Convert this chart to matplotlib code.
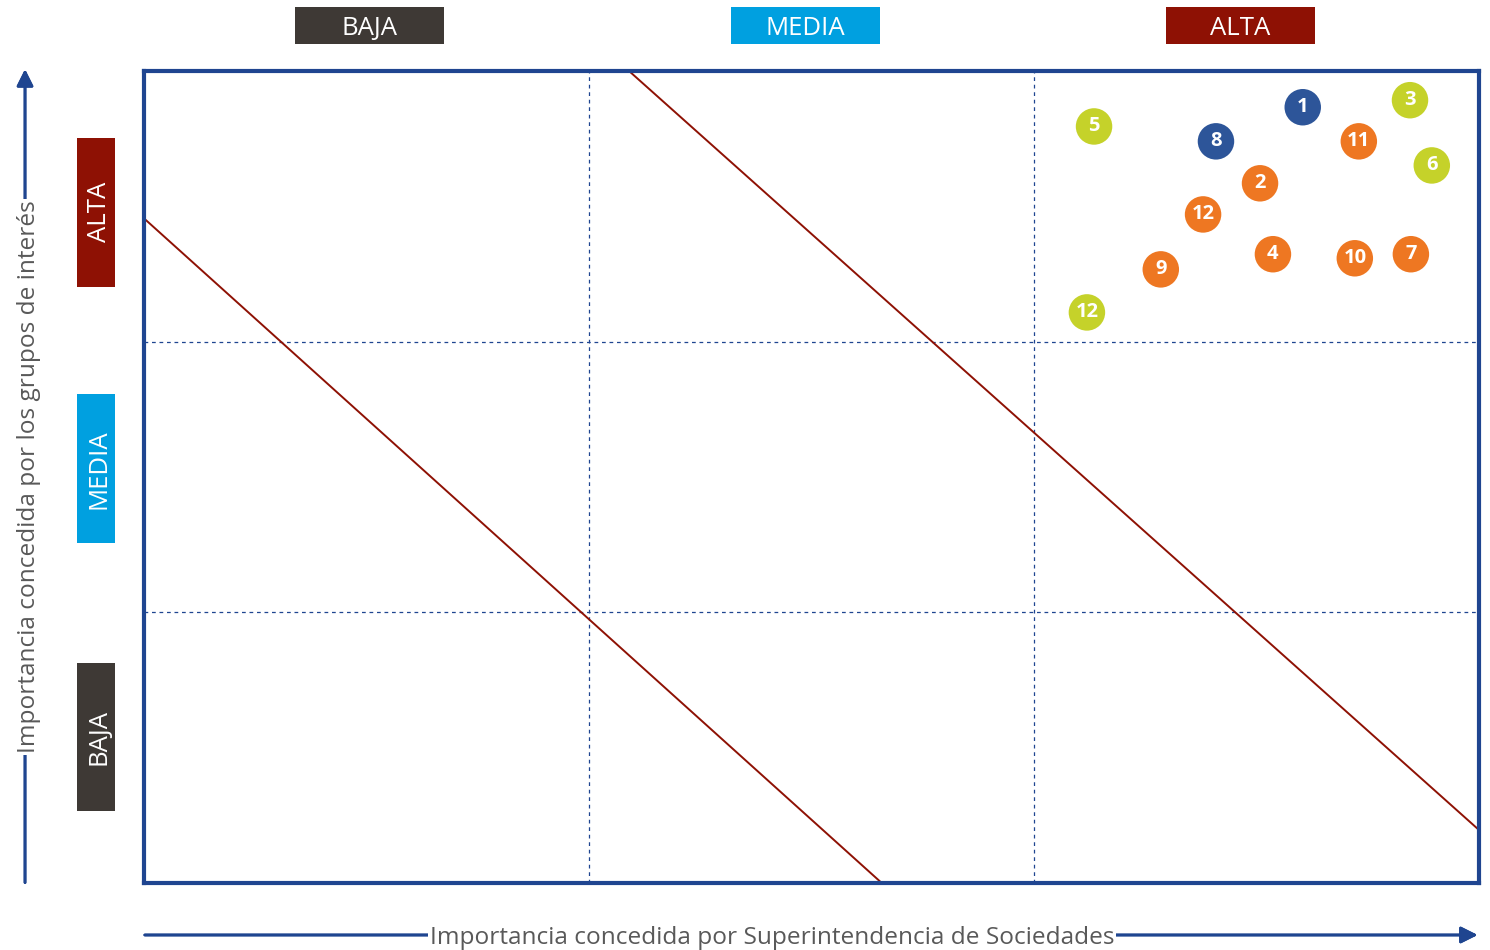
import matplotlib.pyplot as plt
from matplotlib.patches import Rectangle

plt.rcParams['font.family'] = ['Open Sans', 'DejaVu Sans']

# materiality points (x: Superintendencia, y: grupos de interés)
labels = ['1', '3', '5', '8', '11', '6', '2', '12', '4', '10', '7', '9', '12']
xs = [2.604, 2.845, 2.135, 2.409, 2.730, 2.894, 2.508, 2.380, 2.537, 2.721, 2.847, 2.285, 2.119]
ys = [2.866, 2.892, 2.795, 2.740, 2.740, 2.651, 2.585, 2.470, 2.323, 2.308, 2.323, 2.267, 2.108]
groups = ['blue', 'green', 'green', 'blue', 'orange', 'green', 'orange', 'orange',
          'orange', 'orange', 'orange', 'orange', 'green']
group_colors = {'blue': '#2D5599', 'orange': '#EE7722', 'green': '#C5D22A'}

levels = ['BAJA', 'MEDIA', 'ALTA']
level_colors = ['#3E3935', '#00A0E0', '#8E1104']

# diagonal threshold lines
diag1_x = [0.0045, 1.658]
diag1_y = [2.449, 0.0]
diag2_x = [1.09, 3.0]
diag2_y = [3.0, 0.196]

frame = '#1F4590'
text_gray = '#595959'

fig = plt.figure(figsize=(14.9, 9.5), dpi=100)
ax = fig.add_axes([0.0966, 0.0705, 0.896, 0.8548])
ax.set_xlim(0, 3)
ax.set_ylim(0, 3)
ax.set_xticks([])
ax.set_yticks([])
for sp in ax.spines.values():
    sp.set_color(frame)
    sp.set_linewidth(3)

for v in [1, 2]:
    ax.axvline(v, color=frame, linestyle=(0, (3, 3)), linewidth=0.9)
    ax.axhline(v, color=frame, linestyle=(0, (3, 3)), linewidth=0.9)

ax.plot(diag1_x, diag1_y, color='#8E1104', linewidth=1.4)
ax.plot(diag2_x, diag2_y, color='#8E1104', linewidth=1.4)

for x, y, lab, g in zip(xs, ys, labels, groups):
    ax.scatter(x, y, s=690, color=group_colors[g], zorder=3, edgecolors='none')
    ax.text(x, y, lab, color='white', fontsize=14.5, fontweight='bold',
            ha='center', va='center', zorder=4)

# level boxes, top
top_boxes = [(0.198, 0.298), (0.4906, 0.5906), (0.7826, 0.8826)]
for (x0, x1), name, col in zip(top_boxes, levels, level_colors):
    fig.patches.append(Rectangle((x0, 0.9537), x1 - x0, 0.039, transform=fig.transFigure,
                                 facecolor=col, edgecolor='none'))
    fig.text((x0 + x1) / 2, 0.9705, name, color='white', fontsize=18.5,
             ha='center', va='center')

# level boxes, left
left_boxes = [(0.146, 0.302), (0.428, 0.585), (0.698, 0.855)]
for (y0, y1), name, col in zip(left_boxes, levels, level_colors):
    fig.patches.append(Rectangle((0.0517, y0), 0.0255, y1 - y0, transform=fig.transFigure,
                                 facecolor=col, edgecolor='none'))
    fig.text(0.0665, (y0 + y1) / 2, name, color='white', fontsize=18.5,
             ha='center', va='center', rotation=90)

# axis arrows
fig.add_artist(plt.annotate('', xy=(0.9935, 0.0158), xytext=(0.0953, 0.0158),
                            xycoords='figure fraction',
                            arrowprops=dict(arrowstyle='-|>', color=frame, lw=2,
                                            mutation_scale=25)))
fig.add_artist(plt.annotate('', xy=(0.0168, 0.930), xytext=(0.0168, 0.068),
                            xycoords='figure fraction',
                            arrowprops=dict(arrowstyle='-|>', color=frame, lw=2,
                                            mutation_scale=25)))

fig.text(0.518, 0.0125, 'Importancia concedida por Superintendencia de Sociedades',
         color=text_gray, fontsize=17.6, ha='center', va='center', zorder=5,
         bbox=dict(facecolor='white', edgecolor='none', pad=1))
fig.text(0.0195, 0.498, 'Importancia concedida por los grupos de interés',
         color=text_gray, fontsize=17.6, ha='center', va='center', rotation=90, zorder=5,
         bbox=dict(facecolor='white', edgecolor='none', pad=1))

fig.savefig('out.png', dpi=100)
